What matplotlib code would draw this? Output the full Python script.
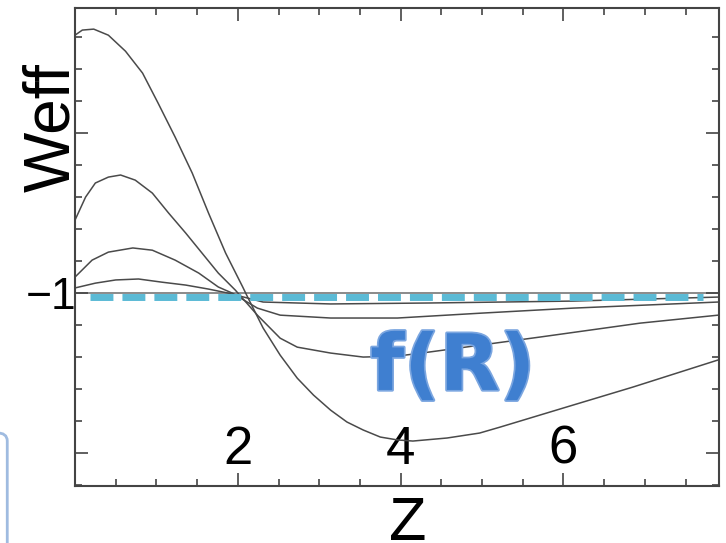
import matplotlib
matplotlib.use("Agg")
import matplotlib.pyplot as plt
import matplotlib.patheffects as pe
from matplotlib.ticker import MultipleLocator
from matplotlib.patches import FancyBboxPatch

# curves (Z, Weff)
a_x = [0, 0.09, 0.23, 0.41, 0.62, 0.83, 1.02, 1.23, 1.44, 1.64, 1.85, 2.06, 2.12, 2.31, 2.52, 2.73, 2.93,
       3.14, 3.34, 3.54, 3.75, 3.96, 4.15, 4.57, 4.97, 5.22, 6.04, 6.85, 7.90]
a_y = [-0.194, -0.178, -0.175, -0.194, -0.244, -0.3125, -0.406, -0.5125, -0.625, -0.75, -0.875, -0.981,
       -1.0125, -1.109, -1.194, -1.266, -1.319, -1.366, -1.403, -1.428, -1.45, -1.459, -1.4625, -1.453,
       -1.4375, -1.419, -1.356, -1.294, -1.209]

b_x = [0, 0.13, 0.25, 0.41, 0.56, 0.74, 0.95, 1.15, 1.36, 1.56, 1.76, 1.97, 2.24, 2.52, 2.73, 3.14, 3.54,
       3.96, 4.36, 5.71, 6.94, 7.90]
b_y = [-0.772, -0.70, -0.656, -0.6375, -0.631, -0.647, -0.6875, -0.75, -0.8125, -0.875, -0.9375, -0.991,
       -1.069, -1.141, -1.169, -1.1875, -1.20, -1.197, -1.184, -1.1375, -1.094, -1.069]

c_x = [0, 0.21, 0.41, 0.71, 0.95, 1.23, 1.52, 1.76, 1.93, 2.24, 2.52, 3.14, 3.96, 4.97, 6.12, 7.90]
c_y = [-0.95, -0.897, -0.872, -0.859, -0.866, -0.897, -0.9375, -0.981, -1.0, -1.047, -1.069, -1.078,
       -1.078, -1.063, -1.047, -1.028]

d_x = [0, 0.25, 0.50, 0.78, 1.07, 1.36, 1.64, 1.88, 2.31, 3.14, 4.36, 6.12, 7.90]
d_y = [-0.984, -0.969, -0.959, -0.956, -0.966, -0.975, -0.9875, -1.0, -1.028, -1.034, -1.031, -1.025,
       -1.0125]

lcdm_y = -1.0
fr_x = [0.18, 7.71]
fr_y = [-1.0125, -1.0125]

xticks = [2, 4, 6]
yticks = [-1.5, -1.0, -0.5]
ytick_labels = ['', '\u22121', '']

plt.rcParams['font.family'] = ['Liberation Sans', 'DejaVu Sans']

fig = plt.figure(figsize=(7.26, 5.43), dpi=100)
ax = fig.add_axes([75/726, 1-486/543, 644/726, 478/543])

ax.axhline(lcdm_y, color='#8a8a8a', lw=1.4, zorder=1)
for xs, ys in [(a_x, a_y), (b_x, b_y), (c_x, c_y), (d_x, d_y)]:
    ax.plot(xs, ys, color='#4a4a4a', lw=1.1, zorder=2, solid_joinstyle='round')
ax.plot(fr_x, fr_y, color='#5bbad5', lw=5, ls=(0, (3.3, 1.3)), dash_capstyle='butt', zorder=3)

ax.text(4.64, -1.234, 'f(R)', fontsize=56, fontweight='bold', family='DejaVu Sans',
        color='#3f7fd0', ha='center', va='center', zorder=4,
        path_effects=[pe.withStroke(linewidth=2.5, foreground='#7ba6e0')])

ax.set_xlim(0, 7.91)
ax.set_ylim(-1.603, -0.109)
ax.set_xticks(xticks)
ax.set_xticklabels([str(t) for t in xticks], fontsize=38)
ax.xaxis.set_minor_locator(MultipleLocator(0.5))
ax.set_yticks(yticks)
ax.set_yticklabels(ytick_labels, fontsize=32)
ax.yaxis.set_minor_locator(MultipleLocator(0.1))

ax.tick_params(which='both', direction='in', top=True, right=True, color='#444444', width=1.2)
ax.tick_params(which='major', length=9.5)
ax.tick_params(which='minor', length=5)
ax.tick_params(axis='x', which='major', pad=-44)
ax.tick_params(axis='y', which='major', pad=-1)
for s in ax.spines.values():
    s.set_color('#444444')
    s.set_linewidth(1.5)

ax.set_ylabel('Weff', fontsize=46)
ax.yaxis.set_label_coords(0.011, 0.749)
ax.set_xlabel('Z', fontsize=44)
ax.xaxis.set_label_coords(0.516, -0.02)

# bit of a slide frame peeking in at the lower left
fig.patches.append(FancyBboxPatch((-0.03, -0.05), 0.04, 0.253,
                                  boxstyle='round,pad=0,rounding_size=0.015',
                                  transform=fig.transFigure, fc='none', ec='#9fbbe0', lw=2))

fig.savefig('out.png', dpi=100)
